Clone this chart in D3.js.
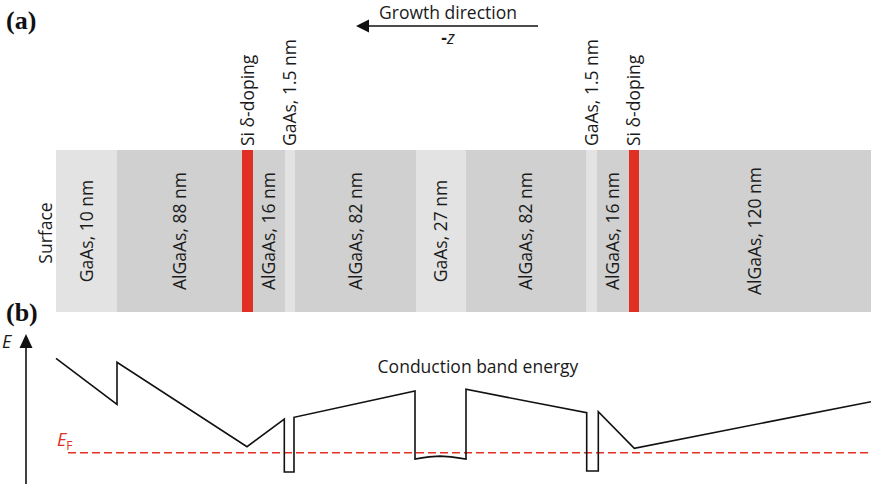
<!DOCTYPE html>
<html>
<head>
<meta charset="utf-8">
<script src="https://cdn.jsdelivr.net/npm/d3@7.9.0/dist/d3.min.js"></script>
<style>
  body { margin: 0; background: #fff; }
  svg text { font-family: "Open Sans", sans-serif; fill: #1a1a1a; }
</style>
</head>
<body>
<svg id="chart" width="871" height="487"></svg>
<script>
// layer stack, schematic z units from the surface (not to scale)
const layerNames = ["GaAs, 10 nm", "AlGaAs, 88 nm", "", "AlGaAs, 16 nm", "", "AlGaAs, 82 nm",
                    "GaAs, 27 nm", "AlGaAs, 82 nm", "", "AlGaAs, 16 nm", "", "AlGaAs, 120 nm"];
const layerKinds = ["GaAs", "AlGaAs", "Si", "AlGaAs", "GaAs", "AlGaAs",
                    "GaAs", "AlGaAs", "GaAs", "AlGaAs", "Si", "AlGaAs"];
const layerEdges = [0, 61, 186, 197, 229, 239, 360, 410, 530.7, 541, 573, 583, 815];

// labels above the bar: [text, z position]
const topLabels = [["Si δ-doping", 191.5], ["GaAs, 1.5 nm", 234], ["GaAs, 1.5 nm", 535.8], ["Si δ-doping", 578]];

// conduction band profile: z (same units) and energy (arb. units, E_F = 0)
const bandZ = [0, 61, 61, 191, 228.3, 228.3, 238, 238, 359, 359, 366, 373, 384, 395, 402, 410, 410,
               530.7, 530.7, 542.3, 542.3, 578.3, 815];
const bandE = [94.4, 48.4, 90.4, 6, 33.7, -19.3, -19.3, 35.4, 61.7, -6.3, -5.2, -4.2, -3.4, -4.2, -5.2, -6.3, 63.4,
               40, -18.3, -18.3, 41, 4.4, 51];
const fermiE = 0;

const colors = { GaAs: "#e3e3e3", AlGaAs: "#cfd0cf", Si: "#e03024" };
const red = "#e03024";
const fs = "17.5px";

const svg = d3.select("#chart");
const x = d3.scaleLinear().domain([0, 815]).range([56, 871]);
const y = d3.scaleLinear().domain([0, 100]).range([452.7, 352.7]);
const barTop = 150, barBot = 312;

// panel letters
svg.append("text").attr("x", 6).attr("y", 29)
  .style("font-family", "'Liberation Serif', serif").style("font-weight", "bold")
  .style("font-size", "26px").style("fill", "#111").text("(a)");
svg.append("text").attr("x", 6).attr("y", 321)
  .style("font-family", "'Liberation Serif', serif").style("font-weight", "bold")
  .style("font-size", "26px").style("fill", "#111").text("(b)");

// growth direction arrow
svg.append("line").attr("x1", 538).attr("x2", 366).attr("y1", 26).attr("y2", 26)
  .attr("stroke", "#111").attr("stroke-width", 1.6);
svg.append("path").attr("d", "M356,26 L369,19.5 L369,32.5 Z").attr("fill", "#111");
svg.append("text").attr("x", 448).attr("y", 19).attr("text-anchor", "middle")
  .style("font-size", fs).text("Growth direction");
svg.append("text").attr("x", 448).attr("y", 44).attr("text-anchor", "middle")
  .style("font-size", fs).html('<tspan font-weight="bold">-</tspan><tspan font-style="italic">z</tspan>');

// layers
const layers = layerKinds.map((k, i) => ({ kind: k, name: layerNames[i], z0: layerEdges[i], z1: layerEdges[i + 1] }));
svg.append("g").selectAll("rect").data(layers).join("rect")
  .attr("x", d => x(d.z0)).attr("width", d => x(d.z1) - x(d.z0))
  .attr("y", barTop).attr("height", barBot - barTop)
  .attr("fill", d => colors[d.kind]);

const midY = (barTop + barBot) / 2;
svg.append("g").selectAll("text").data(layers.filter(d => d.name)).join("text")
  .attr("transform", d => `translate(${(x(d.z0) + x(d.z1)) / 2 + 6},${midY}) rotate(-90)`)
  .attr("text-anchor", "middle").style("font-size", fs).text(d => d.name);

svg.append("text").attr("transform", `translate(${52},${233}) rotate(-90)`)
  .attr("text-anchor", "middle").style("font-size", fs).text("Surface");

svg.append("g").selectAll("text").data(topLabels).join("text")
  .attr("transform", d => `translate(${x(d[1]) + 6},${146}) rotate(-90)`)
  .attr("text-anchor", "start").style("font-size", fs).text(d => d[0]);

// energy axis
svg.append("line").attr("x1", 26).attr("x2", 26).attr("y1", 484).attr("y2", 346)
  .attr("stroke", "#111").attr("stroke-width", 1.6);
svg.append("path").attr("d", "M26,334 L19.5,348 L32.5,348 Z").attr("fill", "#111");
svg.append("text").attr("x", 2).attr("y", 348).style("font-size", "18px")
  .style("font-style", "italic").text("E");

// Fermi level
svg.append("line").attr("x1", 68).attr("x2", 871).attr("y1", y(fermiE)).attr("y2", y(fermiE))
  .attr("stroke", red).attr("stroke-width", 1.4).attr("stroke-dasharray", "8,4");
svg.append("text").attr("x", 57).attr("y", 446).style("font-size", "18px")
  .style("fill", red).html('<tspan font-style="italic">E</tspan><tspan font-size="12px" dy="4">F</tspan>');

// conduction band
const band = bandZ.map((z, i) => [z, bandE[i]]);
svg.append("path").datum(band)
  .attr("d", d3.line().x(d => x(d[0])).y(d => y(d[1])))
  .attr("fill", "none").attr("stroke", "#111").attr("stroke-width", 1.6)
  .attr("stroke-linejoin", "miter");

svg.append("text").attr("x", 478).attr("y", 373).attr("text-anchor", "middle")
  .style("font-size", fs).text("Conduction band energy");
</script>
</body>
</html>
